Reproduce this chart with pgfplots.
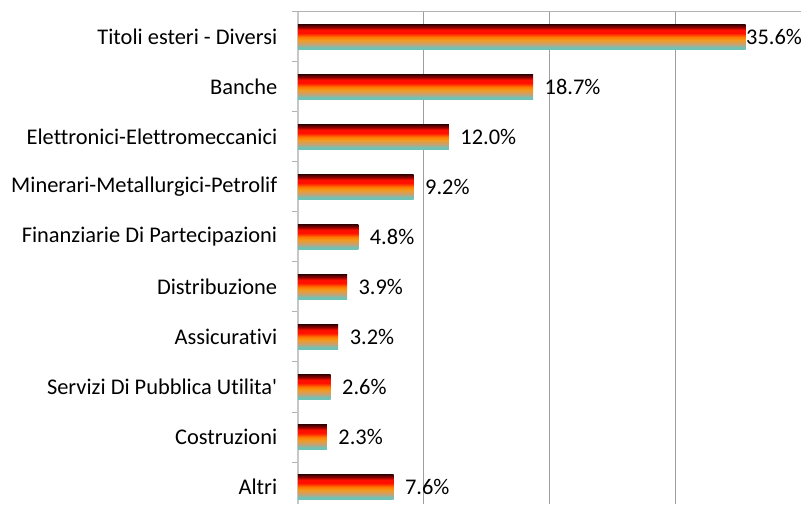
\documentclass[border=0pt]{standalone}
\usepackage{pgfplots}
\pgfplotsset{compat=1.18}
\usepackage{fontspec}
\setmainfont{Carlito}[Ligatures={NoCommon}]
\definecolor{ftop}{HTML}{3A0000}
\definecolor{fdark}{HTML}{8A0000}
\definecolor{fred}{HTML}{FF1000}
\definecolor{forange}{HTML}{FF7A00}
\definecolor{fyel}{HTML}{F39A20}
\definecolor{ftan}{HTML}{C9A070}
\definecolor{fteal}{HTML}{6FC3B6}
\pgfdeclareverticalshading{fire}{100bp}{color(0bp)=(fteal); color(25bp)=(fteal); color(29bp)=(fteal); color(36bp)=(ftan); color(44bp)=(fyel); color(50bp)=(forange); color(58bp)=(fred); color(64bp)=(fred); color(70bp)=(fdark); color(75bp)=(ftop); color(100bp)=(ftop)}
\begin{document}
\begin{tikzpicture}
\begin{axis}[
  at={(298pt,0pt)}, anchor=south west,
  scale only axis, width=503pt, height=492pt,
  xmin=0, xmax=40, ymin=-0.34, ymax=9.5,
  axis x line*=top, axis y line*=left,
  x axis line style={draw=black!30, line width=1pt, -},
  y axis line style={draw=black!22, line width=1.6pt, -},
  xtick={10,20,30,40}, xticklabels={},
  major x tick style={draw=none},
  xmajorgrids, grid style={draw=black!38, line width=0.9pt},
  ytick={0,...,9},
  yticklabels={Altri,Costruzioni,Servizi Di Pubblica Utilita\textquotesingle,Assicurativi,Distribuzione,Finanziarie Di Partecipazioni,Minerari-Metallurgici-Petrolif,Elettronici-Elettromeccanici,Banche,Titoli esteri - Diversi},
  major y tick style={draw=none},
  minor ytick={0.5,1.5,...,9.5},
  minor y tick style={draw=black!30, line width=1pt},
  minor tick length=6pt, tick align=outside,
  yticklabel style={font=\fontsize{22.4}{26}\selectfont, text=black, xshift=-13pt},
  /pgf/number format/assume math mode=true,
  clip=false,
  cycle list={{mark=none}},
  no markers,
  every axis plot/.append style={xbar, mark=none, draw=none, shading=fire, bar width=25pt, bar shift=0pt, forget plot,
    point meta=x,
    nodes near coords={\pgfmathprintnumber[fixed,fixed zerofill,precision=1]{\pgfplotspointmeta}\%},
    nodes near coords style={anchor=west, font=\fontsize{22.4}{26}\selectfont, text=black, xshift=8pt}},
]
\addplot[nodes near coords style={xshift=-11pt}] coordinates {(35.6,9)};
\addplot coordinates {(18.7,8)};
\addplot coordinates {(12.0,7)};
\addplot coordinates {(9.2,6)};
\addplot coordinates {(4.8,5)};
\addplot coordinates {(3.9,4)};
\addplot coordinates {(3.2,3)};
\addplot coordinates {(2.6,2)};
\addplot coordinates {(2.3,1)};
\addplot coordinates {(7.6,0)};
\end{axis}
\pgfresetboundingbox
\path (0,0) rectangle (801pt,504pt);
\end{tikzpicture}
\end{document}
